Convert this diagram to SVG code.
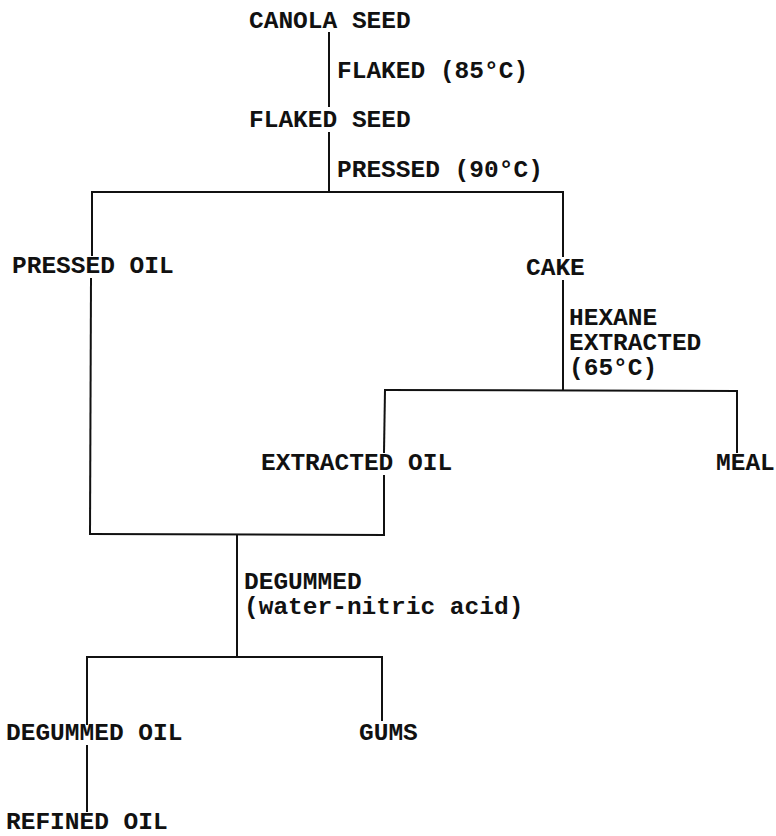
<svg xmlns="http://www.w3.org/2000/svg" width="776" height="836" viewBox="0 0 776 836">
<style>
text{font-family:"Liberation Mono","DejaVu Sans Mono",monospace;font-size:24.5px;font-weight:bold;fill:#111}
.c line{stroke:#111;stroke-width:2;stroke-linecap:square}
</style>
<rect width="776" height="836" fill="#fff"/>
<g class="c" id="connectors">
<line x1="329" y1="33" x2="329" y2="106"/>
<line x1="329" y1="133" x2="329" y2="192"/>
<line x1="92" y1="192" x2="563" y2="192"/>
<line x1="92" y1="192" x2="92" y2="255"/>
<line x1="91" y1="279" x2="90" y2="534"/>
<line x1="563" y1="192" x2="563" y2="256"/>
<line x1="563" y1="281" x2="563" y2="390"/>
<line x1="385" y1="390" x2="737" y2="391"/>
<line x1="385" y1="390" x2="384" y2="452"/>
<line x1="384" y1="476" x2="384" y2="535"/>
<line x1="737" y1="391" x2="737" y2="452"/>
<line x1="90" y1="534" x2="384" y2="535"/>
<line x1="237" y1="535" x2="237" y2="657"/>
<line x1="87" y1="657" x2="382" y2="657"/>
<line x1="87" y1="657" x2="87" y2="724"/>
<line x1="382" y1="657" x2="382" y2="720"/>
<line x1="87" y1="746" x2="87" y2="811"/>
</g>
<g id="canola-seed"><text x="249" y="28">CANOLA SEED</text></g>
<g id="flaked-label"><text x="337" y="78">FLAKED (85°C)</text></g>
<g id="flaked-seed"><text x="249" y="127">FLAKED SEED</text></g>
<g id="pressed-label"><text x="337" y="177">PRESSED (90°C)</text></g>
<g id="pressed-oil"><text x="12" y="273">PRESSED OIL</text></g>
<g id="cake"><text x="526" y="275">CAKE</text></g>
<g id="hexane-label"><text x="569" y="325">HEXANE</text><text x="569" y="350">EXTRACTED</text><text x="569" y="375">(65°C)</text></g>
<g id="extracted-oil"><text x="261" y="470">EXTRACTED OIL</text></g>
<g id="meal"><text x="716" y="470">MEAL</text></g>
<g id="degummed-label"><text x="244" y="589">DEGUMMED</text><text x="244" y="614">(water-nitric acid)</text></g>
<g id="degummed-oil"><text x="6" y="740">DEGUMMED OIL</text></g>
<g id="gums"><text x="359" y="740">GUMS</text></g>
<g id="refined-oil"><text x="6" y="829">REFINED OIL</text></g>
</svg>
